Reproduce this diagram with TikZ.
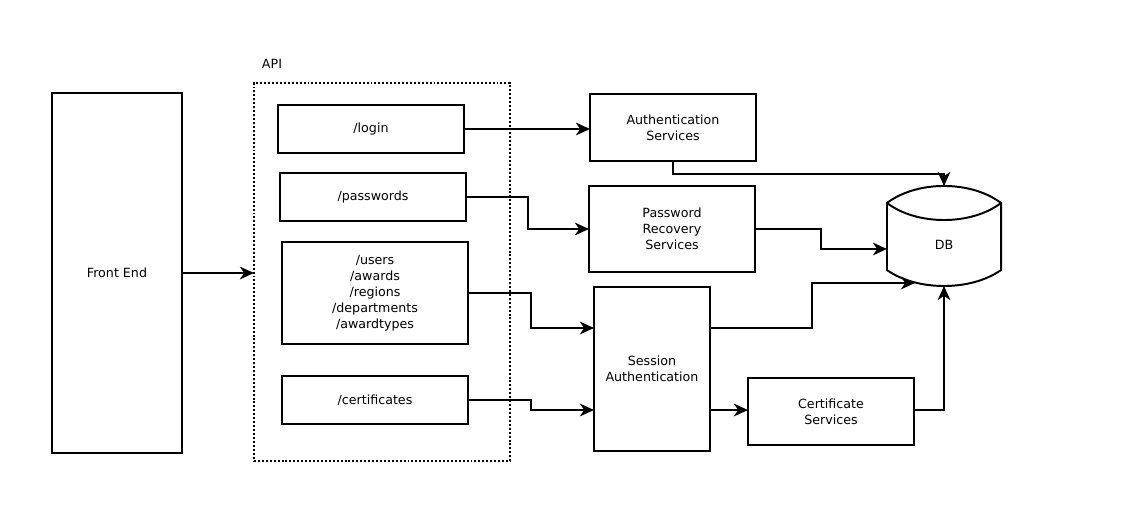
\documentclass[tikz,border=0pt]{standalone}
\usepackage{fontspec}
\setmainfont{DejaVu Sans}
\usepackage{tikz}
\usetikzlibrary{positioning}
\usetikzlibrary{calc}
\usetikzlibrary{arrows.meta}
\tikzset{mybox/.style={draw, line width=1.4pt, inner sep=0pt, outer sep=0pt, align=center, font=\fontsize{9}{11.3}\selectfont}}
\tikzset{myboxApi/.style={draw, line width=1.4pt, dash pattern=on 1.4pt off 1.4pt, inner sep=0pt, outer sep=0pt}}
\tikzset{myarrow/.style={-{Stealth[length=10pt, width=9pt, inset=3pt]}, line width=1.4pt}}
\begin{document}
\begin{tikzpicture}[x=0.025cm, y=-0.025cm]

\useasboundingbox (0,0) rectangle (1123,528);

\node[mybox, minimum width=3.25cm, minimum height=9cm] (front) at (117, 273) {Front End};

\node[myboxApi, minimum width=6.4cm, minimum height=9.45cm] (api) at (382, 272) {};
\node[anchor=west, font=\fontsize{9}{11.3}\selectfont] (apilbl) at (257, 64) {API};

\node[mybox, minimum width=4.65cm, minimum height=1.2cm] (login) at (371, 129) {/login};
\node[mybox, minimum width=4.65cm, minimum height=1.2cm] (passwords) at (373, 197) {/passwords};
\node[mybox, minimum width=4.65cm, minimum height=2.55cm] (users) at (375, 293) {/users\\/awards\\/regions\\/departments\\/awardtypes};
\node[mybox, minimum width=4.65cm, minimum height=1.2cm] (certificates) at (375, 400) {/certificates};

\node[mybox, minimum width=4.15cm, minimum height=1.675cm] (auth) at (673, 127.5) {Authentication\\Services};
\node[mybox, minimum width=4.15cm, minimum height=2.15cm] (recovery) at (672, 229) {Password\\Recovery\\Services};
\node[mybox, minimum width=2.9cm, minimum height=4.1cm] (session) at (652, 369) {Session\\Authentication};
\node[mybox, minimum width=4.15cm, minimum height=1.675cm] (certsrv) at (831, 411.5) {Certificate\\Services};

% database cylinder
\node[inner sep=0pt, outer sep=0pt, minimum width=2.85cm, minimum height=2.5cm] (db) at (944, 236) {};
\node[font=\fontsize{9}{11.3}\selectfont] (dblbl) at ($(db.center)+(0,9)$) {DB};
\draw[line width=1.4pt] ($(db.north west)+(0,17)$) coordinate (dbA)
  .. controls +(30,-22.7) and +(-30,-22.7) .. ($(db.north east)+(0,17)$) coordinate (dbB)
  -- ($(db.south east)+(0,-16)$)
  .. controls +(-30,21.3) and +(30,21.3) .. ($(db.south west)+(0,-16)$)
  -- cycle;
\draw[line width=1.4pt] (dbA) .. controls +(30,22.7) and +(-30,22.7) .. (dbB);
\coordinate (dbin) at ($(db.west)+(0,13)$);
\coordinate (dbbot) at ($(db.south)+(-29,-3)$);
\coordinate (sesstop) at ($(session.east)+(0,-41)$);
\coordinate (sessbot) at ($(session.east)+(0,41)$);

\draw[myarrow] (front.east) -- (front.east -| api.west);
\draw[myarrow] (login.east) -- (login.east -| auth.west);
\draw[myarrow] (passwords.east) -- ++(62,0) |- (recovery.west);
\draw[myarrow] (users.east) -- ++(63,0) |- ($(session.west)+(0,-41)$);
\draw[myarrow] (certificates.east) -- ++(63,0) |- ($(session.west)+(0,41)$);

\draw[myarrow] (auth.south) -- ++(0,13) -| (db.north);
\draw[myarrow] (recovery.east) -- ++(66,0) |- (dbin);
\draw[myarrow] (sesstop) -- ++(102,0) |- (dbbot);
\draw[myarrow] (sessbot) -- (sessbot -| certsrv.west);
\draw[myarrow] (sessbot -| certsrv.east) -| (db.south);

\end{tikzpicture}
\end{document}
